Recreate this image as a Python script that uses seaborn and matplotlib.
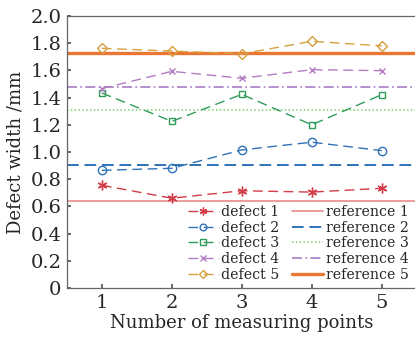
import matplotlib
matplotlib.use("Agg")
import matplotlib.pyplot as plt
import seaborn as sns
import pandas as pd

points = [1, 2, 3, 4, 5]
defect1 = [0.755, 0.66, 0.715, 0.705, 0.733]
defect2 = [0.865, 0.88, 1.015, 1.072, 1.01]
defect3 = [1.434, 1.225, 1.424, 1.200, 1.421]
defect4 = [1.466, 1.593, 1.542, 1.605, 1.598]
defect5 = [1.762, 1.742, 1.722, 1.814, 1.780]
references = [0.642, 0.907, 1.311, 1.480, 1.725]
defect_labels = ["defect 1", "defect 2", "defect 3", "defect 4", "defect 5"]
ref_labels = ["reference 1", "reference 2", "reference 3", "reference 4", "reference 5"]

sns.set_theme(style="white")
plt.rcParams['font.family'] = ['DejaVu Serif']
plt.rcParams['mathtext.fontset'] = 'dejavuserif'

defect_colors = ["#d23c48", "#2f72b6", "#2e9c5a", "#b27cc2", "#d6a040"]
markers = [(6, 2, 0), "o", "s", "x", "D"]
msizes = [7, 6, 5, 5, 5.5]
ref_colors = ["#e98a8e", "#2f72b6", "#7dcf6a", "#a67cc6", "#ea7634"]
ref_styles = ["-", (0, (6, 3)), (0, (1, 1.5)), (0, (6, 2, 1, 2)), "-"]
ref_widths = [1.2, 1.4, 1.1, 1.2, 2.4]

fig = plt.figure(figsize=(4.15, 3.4), dpi=100)
ax = fig.add_axes([0.161, 0.153, 0.843, 0.80])

series = [defect1, defect2, defect3, defect4, defect5]
for vals, lab, c, m, ms in zip(series, defect_labels, defect_colors, markers, msizes):
    df = pd.DataFrame({"x": points, "y": vals})
    sns.lineplot(data=df, x="x", y="y", ax=ax, color=c, marker=m, markersize=ms,
                 markerfacecolor="none", markeredgecolor=c, markeredgewidth=1.0,
                 linewidth=1.0, label=lab)
    ax.lines[-1].set_dashes((7, 4))

ref_handles = []
for r, lab, c, ls, lw in zip(references, ref_labels, ref_colors, ref_styles, ref_widths):
    h = ax.axhline(r, color=c, linestyle=ls, linewidth=lw, label=lab, zorder=1)
    ref_handles.append(h)

ax.set_xlim(0.5, 5.5)
ax.set_ylim(0, 2.0)
ax.set_xticks(points)
ax.set_yticks([0, 0.2, 0.4, 0.6, 0.8, 1.0, 1.2, 1.4, 1.6, 1.8, 2.0])
ax.set_yticklabels(["0", "0.2", "0.4", "0.6", "0.8", "1.0", "1.2", "1.4", "1.6", "1.8", "2.0"])
ax.tick_params(axis="both", direction="in", length=3, labelsize=14, color="#555555",
               bottom=True, left=True, pad=4)
for s in ax.spines.values():
    s.set_color("#666666")
    s.set_linewidth(0.9)
ax.spines["right"].set_visible(False)

ax.set_xlabel("Number of measuring points", fontsize=13, labelpad=2)
ax.set_ylabel("Defect width /mm", fontsize=13, labelpad=4)

handles, labels = ax.get_legend_handles_labels()
d_h = handles[:5]
leg = ax.legend(d_h + ref_handles, defect_labels + ref_labels, ncol=2, loc="lower right",
                frameon=False, fontsize=10.2, handlelength=2.2, handletextpad=0.15,
                columnspacing=0.9, labelspacing=0.12, borderaxespad=0.05,
                markerscale=0.8, bbox_to_anchor=(0.995, 0.0))

fig.savefig("out.png", dpi=100)
